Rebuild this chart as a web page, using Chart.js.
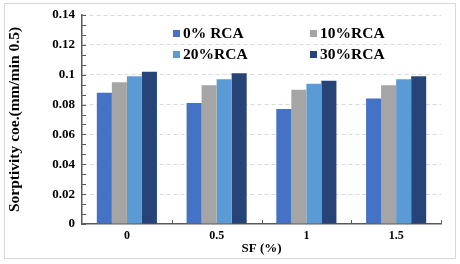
<!DOCTYPE html>
<html>
<head>
<meta charset="utf-8">
<script src="https://cdn.jsdelivr.net/npm/chart.js@4.4.1/dist/chart.umd.min.js"></script>
<style>
  html, body { margin: 0; padding: 0; background: #ffffff; }
  #wrap { position: relative; width: 460px; height: 264px; }
  #c { position: absolute; left: 0; top: 0; }
  #legend { position: absolute; left: 0; top: 0; width: 460px; height: 0; font-family: "Liberation Serif", "Times New Roman", serif; font-weight: bold; font-size: 15.5px; color: #000; }
  .li { position: absolute; display: flex; align-items: center; white-space: pre; line-height: 16px; }
  .sw { width: 7px; height: 7px; margin-right: 3px; }
</style>
</head>
<body>
<div id="wrap">
  <canvas id="c" width="460" height="264"></canvas>
  <div id="legend"></div>
</div>
<script>
// ---- Data ----
const categories = ['0', '0.5', '1', '1.5'];
const seriesNames = ['0% RCA', '10%RCA', '20%RCA', '30%RCA'];
const rca0  = [0.088, 0.081, 0.077, 0.084];
const rca10 = [0.095, 0.093, 0.090, 0.093];
const rca20 = [0.099, 0.097, 0.094, 0.097];
const rca30 = [0.102, 0.101, 0.096, 0.099];
const yTickLabels = ['0', '0.02', '0.04', '0.06', '0.08', '0.1', '0.12', '0.14'];
const xTitle = 'SF (%)';
const yTitle = 'Sorptivity coe.(mm/min 0.5)';

// ---- Styles ----
const colors = ['#4472C4', '#A5A5A5', '#5B9BD5', '#264478'];
const FONT = '"Liberation Serif", "Times New Roman", serif';
const AXIS = '#595959';

const seriesValues = [rca0, rca10, rca20, rca30];
const datasets = seriesNames.map((n, i) => ({
  label: n,
  data: seriesValues[i],
  backgroundColor: colors[i],
  borderWidth: 0,
  categoryPercentage: 0.67,
  barPercentage: 1.0
}));

const frame = {
  id: 'frame',
  beforeDraw(chart) {
    const ctx = chart.ctx;
    ctx.save();
    ctx.strokeStyle = '#d9d9d9';
    ctx.lineWidth = 1;
    ctx.strokeRect(4.5, 3.5, 451, 255);
    ctx.restore();
  },
  afterDraw(chart) {
    const ctx = chart.ctx;
    const a = chart.chartArea;
    const y = chart.scales.y;
    ctx.save();
    ctx.strokeStyle = AXIS;
    ctx.lineWidth = 1;
    // inward ticks on y axis (major + minor)
    const step = 0.02 / 3;
    for (let k = 0; k <= 21; k++) {
      const py = Math.round(y.getPixelForValue(k * step)) + 0.5;
      ctx.beginPath();
      ctx.moveTo(a.left, py);
      ctx.lineTo(a.left + 4, py);
      ctx.stroke();
    }
    // inward ticks on x axis at category boundaries
    const n = categories.length;
    for (let i = 1; i <= n; i++) {
      const px = Math.round(a.left + i * (a.right - a.left) / n) + 0.5;
      ctx.beginPath();
      ctx.moveTo(px, a.bottom);
      ctx.lineTo(px, a.bottom - 4);
      ctx.stroke();
    }
    ctx.restore();
  }
};

const chart = new Chart(document.getElementById('c'), {
  type: 'bar',
  data: { labels: categories, datasets },
  options: {
    responsive: false,
    animation: false,
    layout: { padding: { left: 0, right: 19, top: 15, bottom: 0 } },
    plugins: { legend: { display: false }, tooltip: { enabled: false } },
    scales: {
      x: {
        grid: { display: false, drawTicks: false },
        border: { display: true, color: AXIS, width: 1.5 },
        ticks: { color: '#000', padding: 5, font: { family: FONT, size: 12, weight: 'bold' } },
        title: { display: true, text: xTitle, color: '#000', padding: { top: 8, bottom: 8 }, font: { family: FONT, size: 13, weight: 'bold' } },
        afterFit(s) { s.height = 40; }
      },
      y: {
        min: 0, max: 0.14,
        ticks: {
          stepSize: 0.02, color: '#000', padding: 7,
          font: { family: FONT, size: 13, weight: 'bold' },
          callback: (v, i) => yTickLabels[i]
        },
        grid: {
          drawTicks: false,
          color: (c) => (c.index === 0 ? 'rgba(0,0,0,0)' : '#d9d9d9'),
          lineWidth: 1
        },
        border: { display: true, color: AXIS, width: 1.5, dash: [4, 3] },
        title: { display: true, text: yTitle, color: '#000', padding: { top: 6, bottom: 6 }, font: { family: FONT, size: 15.5, weight: 'bold' } },
        afterFit(s) { s.width = 82; }
      }
    }
  },
  plugins: [frame]
});

// ---- HTML legend (2 x 2 inside the plot) ----
const leg = document.getElementById('legend');
const colX = [173, 310];
const rowY = [33, 54];
seriesNames.forEach((n, i) => {
  const d = document.createElement('div');
  d.className = 'li';
  d.style.left = colX[i % 2] + 'px';
  d.style.top = (rowY[Math.floor(i / 2)] - 8) + 'px';
  const sw = document.createElement('span');
  sw.className = 'sw';
  sw.style.background = colors[i];
  const t = document.createElement('span');
  t.textContent = n;
  d.appendChild(sw);
  d.appendChild(t);
  leg.appendChild(d);
});
</script>
</body>
</html>
